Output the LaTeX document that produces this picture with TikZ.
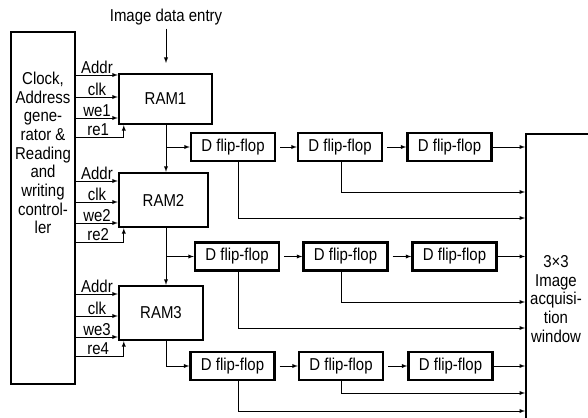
\documentclass[tikz,border=0pt]{standalone}
\usepackage{fontspec}
\setmainfont{Liberation Sans}[FakeStretch=0.87]
\usetikzlibrary{arrows, positioning}

\begin{document}
\begin{tikzpicture}[x=1pt, y=-1pt, font=\fontsize{17.2}{18.7}\selectfont, >=latex,
  rambox/.style={draw, line width=2.4pt, inner sep=0pt},
  ffbox/.style={draw, line width=2.4pt, minimum width=84pt, minimum height=28pt, inner sep=0pt},
  sig/.style={->, line width=0.9pt},
  siglabel/.style={above, inner sep=1pt}]
  \useasboundingbox (0,0) rectangle (588,417);

  % controller and the memory column
  \node[draw, line width=2.4pt, minimum width=64pt, minimum height=352pt] (ctrl) at (43,208) {};
  \node[align=center] (ctrltext) at (43,153) {Clock,\\Address\\gene-\\rator \&\\Reading\\and\\writing\\control-\\ler};

  \node[rambox, minimum width=93pt, minimum height=50pt] (ram1) at (165.5,99) {RAM1};
  \node[rambox, minimum width=89pt, minimum height=54pt] (ram2) at (163.5,200) {RAM2};
  \node[rambox, minimum width=84pt, minimum height=54pt] (ram3) at (161,313) {RAM3};

  \node (entry) at (166,17) {Image data entry};
  \coordinate (entryend) at (166,63);
  \draw[sig] (entry) -- (entryend);

  % signals from the controller
  \draw[sig] (ctrl.east |- 0,75) -- (ram1.west |- 0,75) node[midway, siglabel] {Addr};
  \draw[sig] (ctrl.east |- 0,97) -- (ram1.west |- 0,97) node[midway, siglabel] {clk};
  \draw[sig] (ctrl.east |- 0,118) -- (ram1.west |- 0,118) node[midway, siglabel] {we1};
  \draw[sig] (ctrl.east |- 0,137) -| ([xshift=6pt]ram1.south west) node[pos=0.23, siglabel] {re1};

  \draw[sig] (ctrl.east |- 0,181) -- (ram2.west |- 0,181) node[midway, siglabel] {Addr};
  \draw[sig] (ctrl.east |- 0,202) -- (ram2.west |- 0,202) node[midway, siglabel] {clk};
  \draw[sig] (ctrl.east |- 0,223) -- (ram2.west |- 0,223) node[midway, siglabel] {we2};
  \draw[sig] (ctrl.east |- 0,242) -| ([xshift=6pt]ram2.south west) node[pos=0.23, siglabel] {re2};

  \draw[sig] (ctrl.east |- 0,294) -- (ram3.west |- 0,294) node[midway, siglabel] {Addr};
  \draw[sig] (ctrl.east |- 0,316) -- (ram3.west |- 0,316) node[midway, siglabel] {clk};
  \draw[sig] (ctrl.east |- 0,337) -- (ram3.west |- 0,337) node[midway, siglabel] {we3};
  \draw[sig] (ctrl.east |- 0,356) -| ([xshift=6pt]ram3.south west) node[pos=0.23, siglabel] {re4};

  % flip-flop rows
  \node[ffbox] (d11) at (233,147) {D flip-flop};
  \node[ffbox] (d12) at (340,147) {D flip-flop};
  \node[ffbox] (d13) at (449.5,147) {D flip-flop};
  \node[ffbox] (d21) at (237,256.5) {D flip-flop};
  \node[ffbox] (d22) at (345.5,256.5) {D flip-flop};
  \node[ffbox] (d23) at (454.5,256.5) {D flip-flop};
  \node[ffbox] (d31) at (232.5,366) {D flip-flop};
  \node[ffbox] (d32) at (341,366) {D flip-flop};
  \node[ffbox] (d33) at (450.5,366) {D flip-flop};

  % window
  \coordinate (win) at (525,134);
  \draw[line width=2.4pt] (592,134) -- (526,134) -- (526,421);
  \node[align=center] (wintext) at (556,299) {3×3\\Image\\acquisi-\\tion\\window};

  % data path
  \coordinate (bus) at (166,0);
  \coordinate (tapA) at (238,0);
  \coordinate (tapB) at (341,0);
  \draw[sig] (ram1.south -| bus) -- (ram2.north -| bus);
  \draw[sig] (bus |- d11.west) -- (d11.west);
  \draw[sig] (ram2.south -| bus) -- (ram3.north -| bus);
  \draw[sig] (bus |- d21.west) -- (d21.west);
  \draw[sig] (ram3.south -| bus) |- (d31.west);

  \foreach \r in {1,2,3} {
    \draw[sig, shorten <=4pt] (d\r1.east) -- (d\r2.west);
    \draw[sig, shorten <=4pt] (d\r2.east) -- (d\r3.west);
    \draw[sig] (d\r3.east) -- (d\r3.east -| win);
  }

  \draw[sig] (d12.south -| tapB) |- (win |- 0,192);
  \draw[sig] (d11.south -| tapA) |- (win |- 0,218);
  \draw[sig] (d22.south -| tapB) |- (win |- 0,302);
  \draw[sig] (d21.south -| tapA) |- (win |- 0,328);
  \draw[sig] (d32.south -| tapB) |- (win |- 0,393);
  \draw[sig] (d31.south -| tapA) |- (win |- 0,411);
\end{tikzpicture}
\end{document}
